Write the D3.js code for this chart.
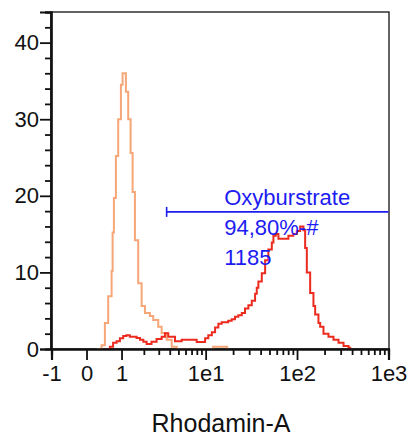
<!DOCTYPE html>
<html><head><meta charset="utf-8">
<script src="https://cdn.jsdelivr.net/npm/d3@7"></script>
<style>
html,body{margin:0;padding:0;background:#fff;}
text{font-family:"Liberation Sans",Arial,Helvetica,sans-serif;}
</style></head>
<body><svg id="chart" width="408" height="436"></svg>
<script>
// ---- data ----
const xMajorTicks = [-1, 0, 1, 10, 100, 1000];
const xTickLabels = ["-1", "0", "1", "1e1", "1e2", "1e3"];
const xMinorTicks = [2,3,4,5,6,7,8,9,20,30,40,50,60,70,80,90,200,300,400,500,600,700,800,900];
const yMajorTicks = [0, 10, 20, 30, 40];
const yMinorTicks = [2,4,6,8,12,14,16,18,22,24,26,28,32,34,36,38,42,44];

// control (unstained) histogram: bin left edge (Rhodamin-A) and count
const controlX = [0.256,0.388,0.479,0.573,0.674,0.705,0.745,0.809,0.885,0.978,1.038,1.162,1.253,1.352,1.439,1.543,1.701,1.877,2.061,2.366,2.588,2.959,3.238,3.692,4.205,4.784,12.07,17.2];
const controlCount = [0,0.5,3.4,6.9,10.2,15.2,19.7,25.2,30.0,34.5,36.0,33.6,30.0,25.6,20.5,14.2,8.6,5.6,4.7,4.3,3.8,2.9,2.1,1.2,0.3,0,0.3,0];

// sample histogram
const sampleX = [0.527,0.623,0.72,0.832,0.943,1.06,1.18,1.32,1.62,1.79,1.97,2.16,2.47,2.83,3.24,3.53,3.85,4.58,5.44,7.97,9.87,10.7,11.7,12.7,13.8,15.0,17.7,19.3,21.0,22.8,24.9,27.0,29.4,32.0,34.8,36.3,37.8,41.2,44.8,48.6,53.0,55.2,58.6,62.6,80.5,91.3,99.5,108.2,117.5,122.7,128,139.2,151.2,157.9,171.5,179.1,194.6,220.7,250.4,284.2,322.4,365.7,381.5];
const sampleCount = [0,0.3,0.8,1.0,1.4,1.7,1.8,1.6,1.45,1.2,0.95,0.65,0.95,1.3,1.6,2.05,1.6,1.0,1.2,0.9,1.4,1.8,2.2,2.8,3.3,3.5,3.7,3.9,4.2,4.4,4.7,5.3,5.7,6.3,7.2,8.0,8.8,9.9,11.6,13.0,13.9,14.8,15.0,14.4,14.8,15.0,15.4,16.0,15.5,13.2,10.0,7.3,5.6,4.5,3.4,2.9,2.0,1.6,1.2,0.8,0.4,0.15,0];

// gate
const gateName = "Oxyburstrate";
const gateStats = ["94,80%-#", "1185"];
const gateFrom = 3.69, gateTo = 1000, gateLevel = 17.9, gateLabelX = 16;
const xTitle = "Rhodamin-A";

// ---- layout ----
const L = 51, R = 389, T = 12, B = 349;
const svg = d3.select("#chart");

const xT = d3.scaleLinear().domain([Math.asinh(-1), Math.asinh(1000)]).range([L + 0.5, R - 0.5]);
const x = v => xT(Math.asinh(v));
const y = d3.scaleLinear().domain([0, 44]).range([B, T]);

// frame
svg.append("rect").attr("x", L).attr("y", T).attr("width", R - L).attr("height", B - T)
  .attr("fill", "none").attr("stroke", "#111").attr("stroke-width", 1.3);

// histograms
const line = d3.line().x(d => x(d[0])).y(d => y(d[1])).curve(d3.curveStepAfter);
svg.append("path").datum(controlX.map((v, i) => [v, controlCount[i]]))
  .attr("d", line).attr("fill", "none").attr("stroke", "#f6a677").attr("stroke-width", 2);
svg.append("path").datum(sampleX.map((v, i) => [v, sampleCount[i]]))
  .attr("d", line).attr("fill", "none").attr("stroke", "#ec2a1e").attr("stroke-width", 2);

// gate
const blue = "#1c1cf2";
svg.append("line").attr("x1", x(gateFrom)).attr("x2", x(gateTo)).attr("y1", y(gateLevel)).attr("y2", y(gateLevel))
  .attr("stroke", blue).attr("stroke-width", 1.6);
svg.append("line").attr("x1", x(gateFrom)).attr("x2", x(gateFrom)).attr("y1", y(gateLevel) - 5).attr("y2", y(gateLevel) + 5)
  .attr("stroke", blue).attr("stroke-width", 1.6);
const gl = svg.append("text").attr("x", x(gateLabelX)).attr("y", y(gateLevel) - 7)
  .attr("fill", blue).attr("font-size", 22);
[gateName, ...gateStats].forEach((s, i) => {
  gl.append("tspan").attr("x", x(gateLabelX)).attr("dy", i === 0 ? 0 : 30).text(s);
});

// axes
const xAxis = svg.append("g").attr("transform", `translate(0,${B})`)
  .call(d3.axisBottom(xT).tickValues(xMajorTicks.map(Math.asinh)).tickFormat((d, i) => xTickLabels[i]).tickSize(11).tickPadding(5));
const xAxisMinor = svg.append("g").attr("transform", `translate(0,${B})`)
  .call(d3.axisBottom(xT).tickValues(xMinorTicks.map(Math.asinh)).tickFormat("").tickSize(6));
const yAxis = svg.append("g").attr("transform", `translate(${L},0)`)
  .call(d3.axisLeft(y).tickValues(yMajorTicks).tickSize(11).tickPadding(1));
const yAxisMinor = svg.append("g").attr("transform", `translate(${L},0)`)
  .call(d3.axisLeft(y).tickValues(yMinorTicks).tickFormat("").tickSize(6));
[xAxis, xAxisMinor, yAxis, yAxisMinor].forEach(g => {
  g.select(".domain").attr("stroke", "#111").attr("stroke-width", 2.2);
  g.selectAll(".tick line").attr("stroke", "#111").attr("stroke-width", 1.8);
  g.selectAll("text").attr("font-size", 22).attr("fill", "#111")
    .attr("font-family", '"Liberation Sans",Arial,sans-serif');
});

svg.append("text").attr("x", (L + R) / 2 + 1).attr("y", 432).attr("text-anchor", "middle")
  .attr("font-size", 25).attr("fill", "#111").text(xTitle);
</script></body></html>
